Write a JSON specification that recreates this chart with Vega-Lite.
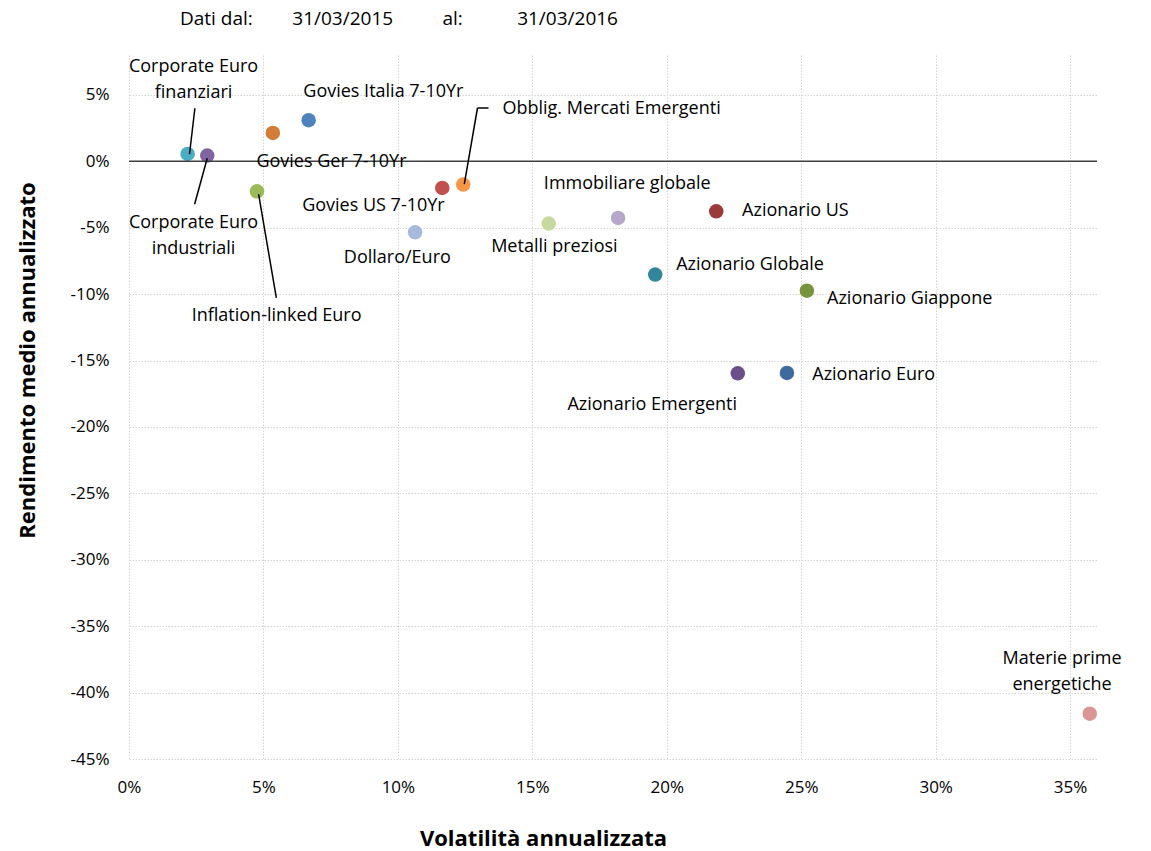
{
  "$schema": "https://vega.github.io/schema/vega-lite/v6.json",
  "width": 968,
  "height": 704,
  "autosize": "none",
  "padding": {"left": 129, "top": 55, "right": 54, "bottom": 92},
  "background": "white",
  "config": {
    "font": "Open Sans",
    "view": {"stroke": "transparent", "strokeWidth": 0},
    "axis": {"grid": false, "domain": false, "ticks": false}
  },
  "title": {
    "text": "Dati dal:\u00a0\u00a0\u00a0\u00a0\u00a0\u00a0\u00a0\u00a031/03/2015\u00a0\u00a0\u00a0\u00a0\u00a0\u00a0\u00a0\u00a0\u00a0\u00a0al:\u00a0\u00a0\u00a0\u00a0\u00a0\u00a0\u00a0\u00a0\u00a0\u00a0\u00a031/03/2016",
    "anchor": "start",
    "frame": "group",
    "dx": 51,
    "offset": 26,
    "font": "Open Sans",
    "fontSize": 19,
    "fontWeight": "normal",
    "color": "#000000"
  },
  "datasets": {
    "points": [
      {"name": "Corporate Euro finanziari", "x": 2.18, "y": 0.55},
      {"name": "Corporate Euro industriali", "x": 2.91, "y": 0.43},
      {"name": "Govies Ger 7-10Yr", "x": 5.35, "y": 2.13},
      {"name": "Govies Italia 7-10Yr", "x": 6.68, "y": 3.09},
      {"name": "Inflation-linked Euro", "x": 4.76, "y": -2.26},
      {"name": "Govies US 7-10Yr", "x": 11.65, "y": -2.01},
      {"name": "Obblig. Mercati Emergenti", "x": 12.43, "y": -1.75},
      {"name": "Dollaro/Euro", "x": 10.64, "y": -5.35},
      {"name": "Metalli preziosi", "x": 15.61, "y": -4.69},
      {"name": "Immobiliare globale", "x": 18.19, "y": -4.27},
      {"name": "Azionario US", "x": 21.84, "y": -3.77},
      {"name": "Azionario Globale", "x": 19.57, "y": -8.53},
      {"name": "Azionario Giappone", "x": 25.21, "y": -9.74},
      {"name": "Azionario Emergenti", "x": 22.64, "y": -15.96},
      {"name": "Azionario Euro", "x": 24.47, "y": -15.94},
      {"name": "Materie prime energetiche", "x": 35.73, "y": -41.59}
    ],
    "labelsCenter": [
      {"text": "Corporate Euro\nfinanziari", "x": 2.4, "y": 7.08},
      {"text": "Govies Italia 7-10Yr", "x": 9.46, "y": 5.2},
      {"text": "Govies Ger 7-10Yr", "x": 7.53, "y": -0.08},
      {"text": "Govies US 7-10Yr", "x": 9.09, "y": -3.39},
      {"text": "Corporate Euro\nindustriali", "x": 2.4, "y": -4.67},
      {"text": "Inflation-linked Euro", "x": 5.49, "y": -11.67},
      {"text": "Dollaro/Euro", "x": 9.98, "y": -7.3},
      {"text": "Immobiliare globale", "x": 18.53, "y": -1.73},
      {"text": "Metalli preziosi", "x": 15.82, "y": -6.48},
      {"text": "Azionario Emergenti", "x": 19.46, "y": -18.37},
      {"text": "Materie prime\nenergetiche", "x": 34.7, "y": -37.5}
    ],
    "labelsLeft": [
      {"text": "Obblig. Mercati Emergenti", "x": 13.89, "y": 3.92},
      {"text": "Azionario US", "x": 22.8, "y": -3.77},
      {"text": "Azionario Globale", "x": 20.35, "y": -7.83},
      {"text": "Azionario Giappone", "x": 25.96, "y": -10.39},
      {"text": "Azionario Euro", "x": 25.41, "y": -16.11}
    ],
    "leaders": [
      {"x": 2.45, "y": 3.99, "x2": 2.25, "y2": 0.53},
      {"x": 2.91, "y": 0.23, "x2": 2.44, "y2": -3.24},
      {"x": 4.82, "y": -2.48, "x2": 5.48, "y2": -10.29},
      {"x": 12.47, "y": -1.73, "x2": 12.96, "y2": 4.01},
      {"x": 12.96, "y": 4.01, "x2": 13.37, "y2": 4.01}
    ]
  },
  "layer": [
    {
      "data": {"name": "points"},
      "mark": {"type": "circle", "size": 210, "opacity": 1},
      "encoding": {
        "x": {
          "field": "x",
          "type": "quantitative",
          "scale": {"domain": [0, 36], "nice": false, "zero": false},
          "axis": {
            "title": "Volatilità annualizzata",
            "titleFont": "Open Sans",
            "titleFontSize": 22,
            "titleFontWeight": "bold",
            "titleColor": "#000000",
            "titleX": 414,
            "titleY": 79,
            "titleAlign": "center",
            "titleBaseline": "middle",
            "values": [0, 5, 10, 15, 20, 25, 30, 35],
            "labelExpr": "datum.value + '%'",
            "labelFont": "Open Sans",
            "labelFontSize": 17,
            "labelColor": "#000000",
            "labelPadding": 20,
            "labelFlush": false,
            "domain": false,
            "ticks": false,
            "grid": true,
            "gridColor": "#D4D4D4",
            "gridDash": [1.5, 1.5],
            "gridWidth": 1
          }
        },
        "y": {
          "field": "y",
          "type": "quantitative",
          "scale": {"domain": [-45, 8], "nice": false, "zero": false},
          "axis": {
            "title": "Rendimento medio annualizzato",
            "titleFont": "Open Sans",
            "titleFontSize": 22,
            "titleFontWeight": "bold",
            "titleColor": "#000000",
            "titleX": -102,
            "titleY": 305,
            "titleAlign": "center",
            "titleBaseline": "middle",
            "titleAngle": -90,
            "values": [-45, -40, -35, -30, -25, -20, -15, -10, -5, 0, 5],
            "labelExpr": "datum.value + '%'",
            "labelFont": "Open Sans",
            "labelFontSize": 17,
            "labelColor": "#000000",
            "labelPadding": 20,
            "labelFlush": false,
            "domain": false,
            "ticks": false,
            "grid": true,
            "gridColor": "#D4D4D4",
            "gridDash": [1.5, 1.5],
            "gridWidth": 1
          }
        },
        "color": {
          "field": "name",
          "type": "nominal",
          "legend": null,
          "scale": {
            "domain": ["Corporate Euro finanziari", "Corporate Euro industriali", "Govies Ger 7-10Yr", "Govies Italia 7-10Yr", "Inflation-linked Euro", "Govies US 7-10Yr", "Obblig. Mercati Emergenti", "Dollaro/Euro", "Metalli preziosi", "Immobiliare globale", "Azionario US", "Azionario Globale", "Azionario Giappone", "Azionario Emergenti", "Azionario Euro", "Materie prime energetiche"],
            "range": ["#4BACC6", "#8064A2", "#D27C36", "#4F81BD", "#9BBB59", "#C0504D", "#F79646", "#A8BADB", "#C6D9A0", "#B7A8CB", "#9A3B3A", "#31859C", "#77933C", "#6A4F8A", "#3E6A9E", "#D99694"]
          }
        }
      }
    },
    {
      "data": {"values": [{"y": 0}]},
      "mark": {"type": "rule", "color": "#404040", "strokeWidth": 1.5},
      "encoding": {"y": {"field": "y", "type": "quantitative"}}
    },
    {
      "data": {"name": "leaders"},
      "mark": {"type": "rule", "color": "#000000", "strokeWidth": 1.5},
      "encoding": {
        "x": {"field": "x", "type": "quantitative"},
        "y": {"field": "y", "type": "quantitative"},
        "x2": {"field": "x2"},
        "y2": {"field": "y2"}
      }
    },
    {
      "data": {"name": "labelsCenter"},
      "mark": {"type": "text", "align": "center", "baseline": "middle", "font": "Open Sans", "fontSize": 18, "lineBreak": "\n", "lineHeight": 26, "color": "#000000"},
      "encoding": {
        "x": {"field": "x", "type": "quantitative"},
        "y": {"field": "y", "type": "quantitative"},
        "text": {"field": "text"}
      }
    },
    {
      "data": {"name": "labelsLeft"},
      "mark": {"type": "text", "align": "left", "baseline": "middle", "font": "Open Sans", "fontSize": 18, "color": "#000000"},
      "encoding": {
        "x": {"field": "x", "type": "quantitative"},
        "y": {"field": "y", "type": "quantitative"},
        "text": {"field": "text"}
      }
    }
  ]
}
